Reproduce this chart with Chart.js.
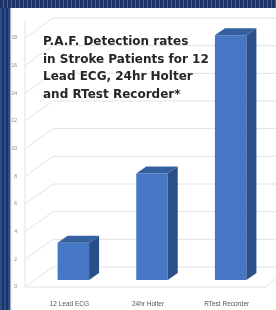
<!DOCTYPE html>
<html>
<head>
<meta charset="utf-8">
<script src="https://cdn.jsdelivr.net/npm/chart.js@4/dist/chart.umd.min.js"></script>
<style>
  body { margin: 0; width: 276px; height: 310px; overflow: hidden; background: #fff; position: relative; }
  #leftBand { position: absolute; left: 0; top: 0; width: 10px; height: 310px;
    background: repeating-linear-gradient(90deg, #2b4a86 0px, #2b4a86 2px, #1b3266 2px, #1b3266 4px);
    box-shadow: 1px 0 1px #9fb0cc; }
  #topBand { position: absolute; left: 0; top: 0; width: 276px; height: 8px;
    background: repeating-linear-gradient(90deg, #1d3466 0px, #1d3466 3px, #4663a0 3px, #4663a0 4px); }
  #wrap { position: absolute; left: 10px; top: 8px; width: 266px; height: 302px; }
  #title { position: absolute; left: 43px; top: 33px; font-family: "DejaVu Sans", sans-serif; font-weight: bold;
    font-size: 12px; line-height: 17.5px; color: #262626; white-space: nowrap; }
</style>
</head>
<body>
<div id="wrap"><canvas id="barChart" width="266" height="302"></canvas></div>
<div id="leftBand"></div>
<div id="topBand"></div>
<div id="title">P.A.F. Detection rates<br>in Stroke Patients for 12<br>Lead ECG, 24hr Holter<br>and RTest Recorder*</div>
<script>
let categories = ['12 Lead ECG', '24hr Holter', 'RTest Recorder'];
let rates = [2.7, 7.7, 17.7];
let yTicks = [0, 2, 4, 6, 8, 10, 12, 14, 16, 18];

// 3d look: side + top of each column, and the walls behind
let dx = 10, dy = 7;

let walls = {
    id: 'walls',
    beforeDatasetsDraw(chart) {
        let c = chart.ctx, a = chart.chartArea, ys = chart.scales.y;
        c.save();
        c.strokeStyle = '#e2e2e2';
        c.lineWidth = 1;
        let x0 = a.left - 9, x1 = a.left + 19, x2 = a.right + 6;
        yTicks.forEach(v => {
            let p = ys.getPixelForValue(v);
            c.beginPath();
            c.moveTo(x0, p + 7);
            c.lineTo(x1, p - 13);
            c.lineTo(x2, p - 13);
            c.stroke();
        });
        let b = ys.getPixelForValue(0);
        c.beginPath();
        c.moveTo(x0, b + 7);
        c.lineTo(a.right - 4, b + 7);
        c.lineTo(x2 + 4, b - 6);
        c.stroke();
        c.beginPath();
        c.moveTo(x0, b + 7);
        c.lineTo(x0, a.top - 10);
        c.stroke();
        c.restore();
    },
    afterDatasetsDraw(chart) {
        let c = chart.ctx;
        chart.getDatasetMeta(0).data.forEach(bar => {
            let l = bar.x - bar.width / 2, r = bar.x + bar.width / 2;
            c.fillStyle = '#2a5089';
            c.beginPath();
            c.moveTo(r, bar.y);
            c.lineTo(r + dx, bar.y - dy);
            c.lineTo(r + dx, bar.base - dy);
            c.lineTo(r, bar.base);
            c.closePath();
            c.fill();
            c.fillStyle = '#34609f';
            c.beginPath();
            c.moveTo(l, bar.y);
            c.lineTo(l + dx, bar.y - dy);
            c.lineTo(r + dx, bar.y - dy);
            c.lineTo(r, bar.y);
            c.closePath();
            c.fill();
        });
    }
};

let ctx = document.getElementById('barChart').getContext('2d');

let myChart = new Chart(ctx, {
    type: 'bar',
    data: {
        labels: categories,
        datasets: [{
            data: rates,
            backgroundColor: '#4677c4',
            borderWidth: 0,
            barPercentage: 0.4,
            categoryPercentage: 1
        }]
    },
    options: {
        responsive: false,
        animation: false,
        layout: { padding: { top: 23, right: 6, left: 0, bottom: 0 } },
        plugins: { legend: { display: false }, tooltip: { enabled: false } },
        scales: {
            x: {
                grid: { display: false },
                border: { display: false },
                ticks: { font: { family: 'Liberation Sans', size: 6.5 }, color: '#555', padding: 12, labelOffset: -4, maxRotation: 0 },
                afterFit(scale) { scale.height = 30; }
            },
            y: {
                min: 0,
                max: 18,
                grid: { display: false },
                border: { display: false },
                afterBuildTicks(scale) { scale.ticks = yTicks.map(v => ({ value: v })); },
                ticks: { font: { family: 'Liberation Sans', size: 5 }, color: '#888', padding: 9, labelOffset: 7 },
                afterFit(scale) { scale.width = 24; }
            }
        }
    },
    plugins: [walls]
});
</script>
</body>
</html>
